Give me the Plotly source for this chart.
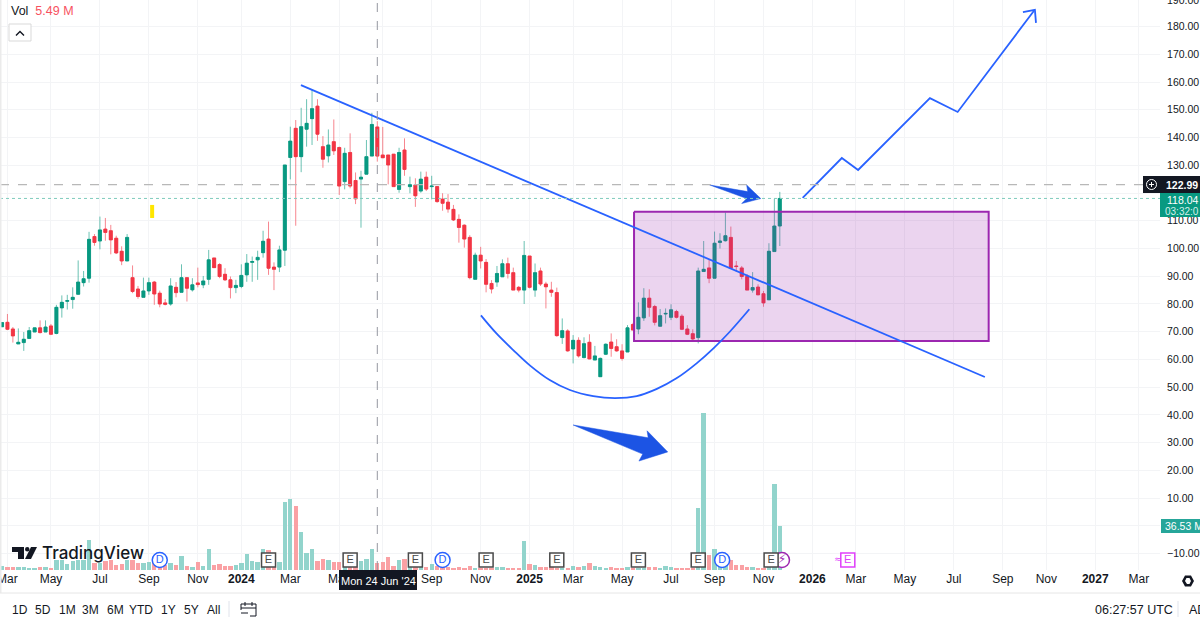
import pandas as pd
import plotly.graph_objects as go

start = pd.Timestamp("2023-02-27")

opens = [71.8,73.4,71,65.6,66.1,67.6,69.9,71.4,69.9,72.1,
69.4,78.6,81,81.6,83.5,87.7,89.3,104.3,102.7,107,
106.4,103.7,99,95.5,89.5,85.4,82.4,84.7,87.9,83.9,
80.4,80,86,84.2,89.5,85.1,87.6,86.9,88.9,96.6,
94.2,90.7,88.7,85.9,86.3,90.5,95,95.9,98.5,103.4,
93.3,93.3,99.4,132.8,143.3,133.1,143,146.8,151.3,136.7,
133.4,138.5,136.4,124.1,134.6,124.5,125,126.8,133.3,143.8,
133.7,133.7,134,121.3,135.5,122.3,122.9,120.7,125.7,122.3,
122.3,117.8,116.7,114.1,110.5,108.4,104,88.9,97.6,95,
87.4,87.9,89.8,94.5,91.3,86,85,97.3,85,91.9,
87.2,85,84.1,67.9,70.3,63.8,66.9,60.7,66.2,59.8,
53.8,61.9,66.3,64.6,63.1,62.7,72.6,71,75,82.1,
79.1,72,76.4,75.2,77.3,75.6,71,69.3,67.9,91.7,
93,89.3,102.2,102.8,104,93.7,93,89.9,85,86.1,
83.7,81.5,98.9,108.1]
closes = [73.3,70.9,68.5,66.2,67.3,70.4,71.4,69.7,71.7,69.1,
78.8,80.6,81.2,82.4,87.9,89.1,103.3,102.2,106.7,105.8,
103.1,98.4,95.5,104,84.5,82.7,84.7,87.7,83.6,80,
79.9,86.5,84.1,89.5,85.7,86.9,87,88.3,95.9,93.1,
89.9,88.7,85.9,86.7,90.3,94.7,95.3,96.8,102.6,92.9,
92.5,99.5,130.1,138.7,133.1,143.9,145.1,150.4,141.2,132.2,
137.3,135.2,122.5,134.3,122.5,117.9,125.7,133.1,144.7,133.3,
132.7,130.1,122.3,134.6,128.5,123,119,125,121.4,122.5,
116.9,116.3,114.2,110.3,107.6,103.4,89.5,97.6,95.5,87.1,
85.4,91,94.5,91,85,85,97.5,86,91.3,87.2,
86.2,84.2,68.6,70.4,63.1,66.9,61.3,65.7,60.2,61.3,
60.4,65.5,64,63.1,60.4,71.4,70.6,75.2,82.1,78.8,
73.4,75.8,76.6,77.9,75.2,70.9,69.1,67.4,91.9,92.5,
89.3,101.9,102.7,104.6,92.9,93.5,89.9,85,85.9,83.3,
80.4,99,108.1,118.04]
highs = [73.3,76.4,71.7,71.2,69.9,71.7,71.4,74.1,74.1,72.8,
79.7,83.1,83.3,86,95.7,91.9,106,105.2,111.5,111,
108.5,104.6,100.8,105.2,93.9,86.5,89.5,89.5,88.3,84.8,
81.8,89.3,87.9,94.3,89.7,89.3,93.1,90.1,99.5,96.6,
94.7,92.9,89.9,88.7,94.3,98,97.1,99.2,106.4,109.7,
95,101,130.1,143.9,146.3,150.7,153.8,157.3,153.8,140.5,
142.9,146.5,136.7,136.3,141.5,127.4,128,139.1,148.9,145.9,
143.8,133.7,134,136.3,139.7,125.9,125.3,127.7,127.7,126.2,
122.5,119.9,119.6,115.7,112.3,108.7,104.8,98.5,100.6,96.2,
88.6,93.7,96.1,96.7,93.1,86.5,102.7,97.3,94.6,93.1,
88,88,85.9,74.8,70.9,68.8,68,68,69.1,64.9,
60.7,65.8,69.4,67.3,65.5,72.4,73.2,80.6,85.7,85.3,
79.7,78.2,78.4,79.9,77.9,76.3,72.4,70.9,93.1,102.7,
95.9,106.1,105.5,113,107.9,95.5,93.7,90.7,91.5,87.1,
84.7,101.9,117.9,120.4]
lows = [71.8,70.6,66.1,65.6,63.1,67.5,69.9,69.4,69.9,68.8,
69.1,75.1,78,78.3,83.3,86.3,87.7,101,99.7,102.8,
97.9,98,94,95.5,83.9,81.9,82.4,83.3,79.7,78.8,
79.5,79.4,82.4,84.2,80.9,84.5,86,85.7,86.9,93.1,
89.3,88.3,82,83.9,85.7,88,88,88.7,96.7,90.5,
85,91.5,93.7,124.9,108.2,127.5,136.7,137.3,138.8,129.1,
131,133.7,119.3,121.3,121.7,116,107.5,126.8,133.3,131.3,
132.7,123.1,122.3,120.1,126.2,119.9,115,120.1,120.7,117.7,
116.5,113.6,112.9,109.9,102.1,100.3,88.9,88.9,92.8,84.2,
83.8,86.2,89.8,89.2,85,84.2,80,85.6,82.6,86.5,
78.4,82.6,68.2,65.6,62.8,58.6,60.7,60.4,60.1,59.8,
53.8,61.6,61,62.8,59.6,62.7,70.6,69.1,73.9,75.4,
72.3,71.9,73,74.2,74.8,70.6,68.8,66.7,65.8,91.7,
87.5,89.3,100,102.5,92.9,91.7,88.9,85,84.1,83.2,
79,81.5,98.9,100.9]
volumes = [3.3,2.8,2.8,2.5,2.5,1.9,1.9,2.5,2.5,1.7,
8.3,8.3,5.0,7.5,8.0,8.0,24.6,5.5,6.1,7.5,
8.3,4.2,5.3,8.3,8.3,5.5,6.1,6.6,5.5,4.2,
4.2,5.8,3.9,11.6,3.3,2.5,6.6,3.3,17.7,3.9,
5,3.3,3.3,3.9,6.1,13,7.5,6.9,17.2,16.6,
4.4,6.9,56.4,58.7,53.1,31.3,14.4,17.2,7.5,8.9,
8.3,6.9,6.9,8.3,4.2,2.8,7.5,9.1,17.4,6.1,
6.9,10.8,3.3,8.3,8.9,4.2,4.2,2.2,2.2,5,
3.3,2.2,2.2,1.7,2.5,1.9,3.3,1.9,1.9,1.9,
1.9,2.5,2.5,1.9,1.9,1.4,23.8,5,4.2,2.8,
2.8,2.2,1.7,1.7,1.9,3.3,2.5,3.3,5.5,3.3,
2.8,1.9,2.2,1.9,1.7,2.5,1.9,1.9,1.9,2.8,
2.5,1.7,3,2.8,1.7,1.1,1.1,1.9,51.2,130,
12.2,17.4,5.5,4.4,8.3,4.2,4.2,2.8,2.8,1.9,
1.7,2.8,71.1,36.53]

tick_dates = ["2023-03-06","2023-05-01","2023-07-03","2023-09-04","2023-11-06","2024-01-01",
              "2024-03-04","2024-05-06","2024-07-01","2024-09-02","2024-11-04","2025-01-06",
              "2025-03-03","2025-05-05","2025-07-07","2025-09-01","2025-11-03","2026-01-05",
              "2026-03-02","2026-05-04","2026-07-06","2026-09-07","2026-11-02","2027-01-04","2027-03-01"]
tick_text = ["Mar","May","Jul","Sep","Nov","<b>2024</b>","Mar","May","Jul","Sep","Nov","<b>2025</b>",
             "Mar","May","Jul","Sep","Nov","<b>2026</b>","Mar","May","Jul","Sep","Nov","<b>2027</b>","Mar"]
price_ticks = [180,170,160,150,140,130,120,110,100,90,80,70,60,50,40,30,20,10,0,-10]

# drawings, as (week number since start, price)
trend_w = [54.96, 180.7]
trend_p = [158.9, 53.7]
box_w = [116.2, 181.4, 181.4, 116.2, 116.2]
box_p = [113.2, 113.2, 66.7, 66.7, 113.2]
path_w = [147.2, 154.4, 157.4, 170.6, 175.7, 189.7]
path_p = [118.2, 132.6, 128.3, 154.2, 149.2, 185.6]
head_w = [187.7, 189.9, 190.1]
head_p = [185.2, 186, 181.3]
curve_w = [88.05, 90.9, 94, 97.1, 100.7, 104.4, 108.7, 112.7, 116.7, 120.4, 124, 127.7, 130.8, 133.8, 137.4]
curve_p = [75.9, 69.4, 63.4, 57.8, 52.6, 49, 46.8, 46.1, 46.8, 49.4, 53.2, 58.6, 64, 70, 78.1]
arrow1_w = [130.1, 137.1, 136.9, 139.5, 136, 136.9, 130.1]
arrow1_p = [122.9, 120.5, 122.9, 118, 116.2, 118, 122.9]
arrow2_w = [105, 118.8, 118.6, 122.4, 117.1, 117.8, 105]
arrow2_p = [36.4, 31.8, 34.3, 26.7, 23.4, 25.9, 36.4]
yellow_w = [27.6, 27.6]
yellow_p = [115.7, 111]
earn_w = [49, 64, 76, 89, 102, 117, 128, 141.4]
div_w = [29, 81, 132.4]
bolt_w = [143.4]
next_earn_w = [155.5]
approx_w = [153.7]
badge_vol = 8.3
high_line = 122.99
last_close = 118.04
cross_w = 69

GREEN = "#089981"
RED = "#f23645"
BLUE = "#2962ff"
PURPLE = "#9c27b0"
PINK = "#e040fb"
FAT = "#1c54e4"
TEXT = "#131722"
GRID = "#f3f4f6"
FONT = "Liberation Sans"


def wk(values):
    return [start + pd.Timedelta(weeks=v) for v in values]


def px(x):
    return x / 1160


def py(y):
    return 1 - y / 570


def note(x, y, text, size=12, color=TEXT, xanchor="center", family=FONT, weight="normal"):
    fig.add_annotation(xref="paper", yref="paper", x=px(x), y=py(y), text=text, showarrow=False,
                       xanchor=xanchor, yanchor="middle",
                       font=dict(family=family, size=size, color=color, weight=weight))


def rect(x0, y0, x1, y1, fill="rgba(0,0,0,0)", line=None, width=1):
    fig.add_shape(type="rect", xref="paper", yref="paper", x0=px(x0), x1=px(x1), y0=py(y0), y1=py(y1),
                  fillcolor=fill, line=dict(color=line or fill, width=width if line else 0))


def seg(x0, y0, x1, y1, color, width=1, dash="solid"):
    fig.add_shape(type="line", xref="paper", yref="paper", x0=px(x0), x1=px(x1), y0=py(y0), y1=py(y1),
                  line=dict(color=color, width=width, dash=dash))


def poly(points, fill):
    d = "M" + " L".join(f"{px(a):.5f},{py(b):.5f}" for a, b in points) + " Z"
    fig.add_shape(type="path", xref="paper", yref="paper", path=d, fillcolor=fill, line=dict(width=0))


weeks = wk(list(range(len(closes))))
vol_colors = ["#92d4cc" if c >= o else "#faa1a4" for o, c in zip(opens, closes)]
body_hi = [max(o, c) for o, c in zip(opens, closes)]
body_lo = [min(o, c) for o, c in zip(opens, closes)]

fig = go.Figure()
# wicks come out paler than the bodies in the picture, so they get their own trace
fig.add_trace(go.Candlestick(x=weeks, open=opens, high=highs, low=lows, close=closes,
                             increasing=dict(line=dict(color="rgba(8,153,129,0.6)", width=1), fillcolor=GREEN),
                             decreasing=dict(line=dict(color="rgba(242,54,69,0.6)", width=1), fillcolor=RED)))
fig.add_trace(go.Candlestick(x=weeks, open=opens, high=body_hi, low=body_lo, close=closes,
                             increasing=dict(line=dict(color=GREEN, width=0.5), fillcolor=GREEN),
                             decreasing=dict(line=dict(color=RED, width=0.5), fillcolor=RED)))
fig.add_trace(go.Scatter(x=wk(box_w), y=box_p, mode="lines", fill="toself", fillcolor="rgba(156,39,176,0.2)",
                         line=dict(color=PURPLE, width=2)))
fig.add_trace(go.Scatter(x=wk(trend_w), y=trend_p, mode="lines", line=dict(color=BLUE, width=1.8)))
fig.add_trace(go.Scatter(x=wk(path_w), y=path_p, mode="lines", line=dict(color=BLUE, width=1.8)))
fig.add_trace(go.Scatter(x=wk(head_w), y=head_p, mode="lines", line=dict(color=BLUE, width=1.8)))
fig.add_trace(go.Scatter(x=wk(curve_w), y=curve_p, mode="lines", line=dict(color=BLUE, width=1.8, shape="spline")))
fig.add_trace(go.Scatter(x=wk(arrow1_w), y=arrow1_p, mode="lines", fill="toself", fillcolor=FAT, line=dict(color=FAT, width=0.5)))
fig.add_trace(go.Scatter(x=wk(arrow2_w), y=arrow2_p, mode="lines", fill="toself", fillcolor=FAT, line=dict(color=FAT, width=0.5)))
fig.add_trace(go.Scatter(x=wk(yellow_w), y=yellow_p, mode="lines", line=dict(color="#ffe600", width=4)))

fig.add_trace(go.Bar(x=weeks, y=volumes, yaxis="y2", marker=dict(color=vol_colors, line=dict(width=0)),
                     width=0.8 * 7 * 24 * 3600 * 1000))
fig.add_trace(go.Scatter(x=wk(bolt_w), y=[badge_vol], yaxis="y2", mode="markers+text", text=["⚡"],
                         textposition="middle center", textfont=dict(family="DejaVu Sans", size=12, color=PURPLE),
                         marker=dict(symbol="circle", size=15, color="white", line=dict(color=PURPLE, width=1.5))))
fig.add_trace(go.Scatter(x=wk(earn_w), y=[badge_vol] * len(earn_w), yaxis="y2", mode="markers+text", text=["E"] * len(earn_w),
                         textposition="middle center", textfont=dict(family=FONT, size=11, color="#4a4a4a"),
                         marker=dict(symbol="square", size=14, color="white", line=dict(color="#4a4a4a", width=1.5))))
fig.add_trace(go.Scatter(x=wk(div_w), y=[badge_vol] * len(div_w), yaxis="y2", mode="markers+text", text=["D"] * len(div_w),
                         textposition="middle center", textfont=dict(family=FONT, size=11, color=BLUE),
                         marker=dict(symbol="circle", size=15, color="white", line=dict(color=BLUE, width=1.5))))
fig.add_trace(go.Scatter(x=wk(next_earn_w), y=[badge_vol], yaxis="y2", mode="markers+text", text=["E"],
                         textposition="middle center", textfont=dict(family=FONT, size=11, color=PINK),
                         marker=dict(symbol="square", size=14, color="white", line=dict(color=PINK, width=1.5))))
fig.add_trace(go.Scatter(x=wk(approx_w), y=[badge_vol], yaxis="y2", mode="text", text=["≈"],
                         textposition="middle center", textfont=dict(family="DejaVu Sans", size=9, color=PINK)))

# price lines and crosshair
fig.add_shape(type="line", xref="paper", yref="y", x0=0, x1=px(1143), y0=high_line, y1=high_line,
              line=dict(color="#b8b8b8", width=1.2, dash="dash"))
fig.add_shape(type="line", xref="paper", yref="y", x0=0, x1=1, y0=last_close, y1=last_close,
              line=dict(color="#7fcbbd", width=1, dash="dot"))
fig.add_shape(type="line", xref="x", yref="paper", x0=wk([cross_w])[0], x1=wk([cross_w])[0], y0=0, y1=1,
              line=dict(color="#9598a1", width=1, dash="dash"))

fig.update_layout(
    width=1200, height=618, margin=dict(l=0, r=40, t=0, b=48, autoexpand=False), showlegend=False,
    paper_bgcolor="white", plot_bgcolor="white", boxgap=0.2, bargap=0,
    xaxis=dict(type="date", range=[start - pd.Timedelta(weeks=0.37), start + pd.Timedelta(weeks=212.9)],
               tickmode="array", tickvals=tick_dates, ticktext=tick_text, tickangle=0,
               showgrid=True, gridcolor=GRID, gridwidth=1, showline=False, zeroline=False,
               rangeslider=dict(visible=False), ticks="", ticklabeloverflow="allow",
               tickfont=dict(family=FONT, size=12, color=TEXT)),
    yaxis=dict(side="right", range=[-15.86, 189.55], tickmode="array", tickvals=price_ticks,
               tickformat=".2f", showgrid=True, gridcolor=GRID, gridwidth=1, zeroline=False, showline=False,
               ticks="outside", ticklen=4, tickcolor="white", tickfont=dict(family=FONT, size=10.5, color=TEXT)),
    yaxis2=dict(overlaying="y", range=[0, 473], visible=False, fixedrange=True),
)

# chrome around the chart
rect(0, 0, 1.5, 593, fill="#ebebeb")
seg(0, 593, 1200, 593, "#e6e6e6")
note(9, 11, 'Vol  <span style="color:#f7525f">5.49 M</span>', size=12.5, xanchor="left")
rect(9, 24, 31, 41, fill="white", line="#d9d9d9")
poly([(15.5, 35), (20, 30.5), (24.5, 35), (23.5, 36), (20, 32.5), (16.5, 36)], TEXT)
note(1183, 0, "190.00", size=10.5)

# TradingView logo
poly([(12, 547), (24, 547), (24, 559), (18, 559), (18, 552), (12, 552)], TEXT)
poly([(31, 547), (37, 547), (31, 559), (25, 559)], TEXT)
fig.add_shape(type="circle", xref="paper", yref="paper", x0=px(25), x1=px(29.5), y0=py(547), y1=py(551.5),
              fillcolor=TEXT, line=dict(width=0))
note(40, 553, "TradingView", size=17, family="Inter", xanchor="left", weight=500)

# price labels on the axis
rect(1143, 176, 1160, 193, fill="#131722")
fig.add_shape(type="circle", xref="paper", yref="paper", x0=px(1146.5), x1=px(1156.5), y0=py(179.5), y1=py(189.5),
              line=dict(color="white", width=1))
seg(1149, 184.5, 1154, 184.5, "white")
seg(1151.5, 182, 1151.5, 187, "white")
rect(1160, 176, 1200, 193, fill="#131722")
note(1182, 184.5, "<b>122.99</b>", size=10.5, color="white")
rect(1160, 193, 1200, 217, fill="#089981")
note(1182, 199.5, "118.04", size=10.5, color="white")
note(1182, 211, "03:32:0", size=10, color="#d5efe9")
rect(1161, 519, 1200, 533, fill="#26a69a")
note(1163, 526, "36.53 M", size=10.5, color="white", xanchor="left")

# crosshair date label
rect(339, 570, 417, 590, fill="#131722")
note(378, 580.5, "Mon 24 Jun '24", size=11, color="white")

# bottom toolbar
range_labels = ["1D", "5D", "1M", "3M", "6M", "YTD", "1Y", "5Y", "All"]
range_x = [20, 43, 67, 90, 115, 141, 168, 191, 213]
for lab, x in zip(range_labels, range_x):
    note(x, 610, lab, size=12)
seg(229, 601, 229, 617, "#e0e3eb")
rect(241, 604, 256, 616, line=TEXT, width=1)
seg(241, 608, 256, 608, TEXT)
seg(245, 602, 245, 606, TEXT)
seg(252, 602, 252, 606, TEXT)
rect(240, 610, 250, 618, fill="white")
seg(241, 613, 248, 613, TEXT)
note(1134, 610, "06:27:57 UTC", size=12.5)
seg(1178, 601, 1178, 617, "#e0e3eb")
note(1187, 610, "AD", size=12.5, xanchor="left")
poly([(1182, 581), (1185, 575.5), (1191, 575.5), (1194, 581), (1191, 586.5), (1185, 586.5), (1187, 584), (1189.5, 584), (1191, 581), (1189.5, 578), (1186.5, 578), (1185, 581), (1187, 584), (1185, 586.5)], TEXT)

fig.write_html("out.html", config=dict(displayModeBar=False),
               post_script="document.body.style.margin='0';document.body.style.overflow='hidden';")
